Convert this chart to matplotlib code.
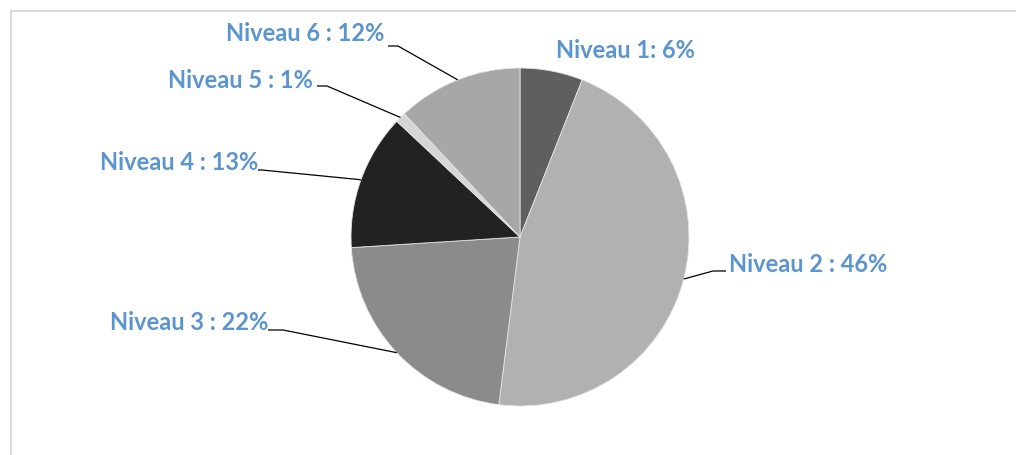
import numpy as np
import matplotlib.pyplot as plt
from matplotlib.patches import Rectangle

# niveaux, parts en %
labels = ['Niveau 1: 6%', 'Niveau 2 : 46%', 'Niveau 3 : 22%',
          'Niveau 4 : 13%', 'Niveau 5 : 1%', 'Niveau 6 : 12%']
values = [6, 46, 22, 13, 1, 12]
colors = ['#5f5f5f', '#b1b1b1', '#8b8b8b', '#222222', '#d6d6d6', '#a7a7a7']

W, H = 1016, 456
fig = plt.figure(figsize=(W / 100, H / 100), dpi=100)
ax = fig.add_axes([0, 0, 1, 1])

cx, cy, r = 520, 238, 169   # centre / rayon en pixels (y vers le bas)

def Y(y):
    return H - y

wedges, _ = ax.pie(values, colors=colors, startangle=90, counterclock=False,
                   center=(cx, Y(cy)), radius=r,
                   wedgeprops=dict(edgecolor='#e4e4e4', linewidth=0.6))

# position des étiquettes : (x, y, alignement, coude du trait)
lab_pos = [
    (556, 50, 'left', None),
    (729, 265, 'left', (713, 272, 726)),
    (268, 323, 'right', (283, 331, 268)),
    (258, 163, 'right', (262, 171, 258)),
    (313, 80, 'right', (327, 87, 317)),
    (384, 33, 'right', (398, 47, 388)),
]

blue = '#5b95cf'
for w, lab, (tx, ty, ha, elbow) in zip(wedges, labels, lab_pos):
    ax.text(tx, Y(ty), lab, ha=ha, va='center', color=blue,
            fontsize=17, fontweight='bold', family='Lato')
    if elbow is None:
        continue
    mid = np.deg2rad((w.theta1 + w.theta2) / 2)
    ex = cx + r * np.cos(mid)
    ey = Y(cy) + r * np.sin(mid)
    bx, by, sx = elbow
    ax.plot([ex, bx, sx], [ey, Y(by), Y(by)], color='black', lw=0.9,
            solid_capstyle='butt')

# cadre gris clair (haut et gauche seulement)
ax.plot([10.5, W], [Y(11.5), Y(11.5)], color='#d9d9d9', lw=1.5)
ax.plot([10.5, 10.5], [0, Y(11.5)], color='#d9d9d9', lw=1.5)

ax.set_xlim(0, W)
ax.set_ylim(0, H)
ax.set_aspect('equal')
ax.axis('off')

fig.savefig('out.png', dpi=100)
